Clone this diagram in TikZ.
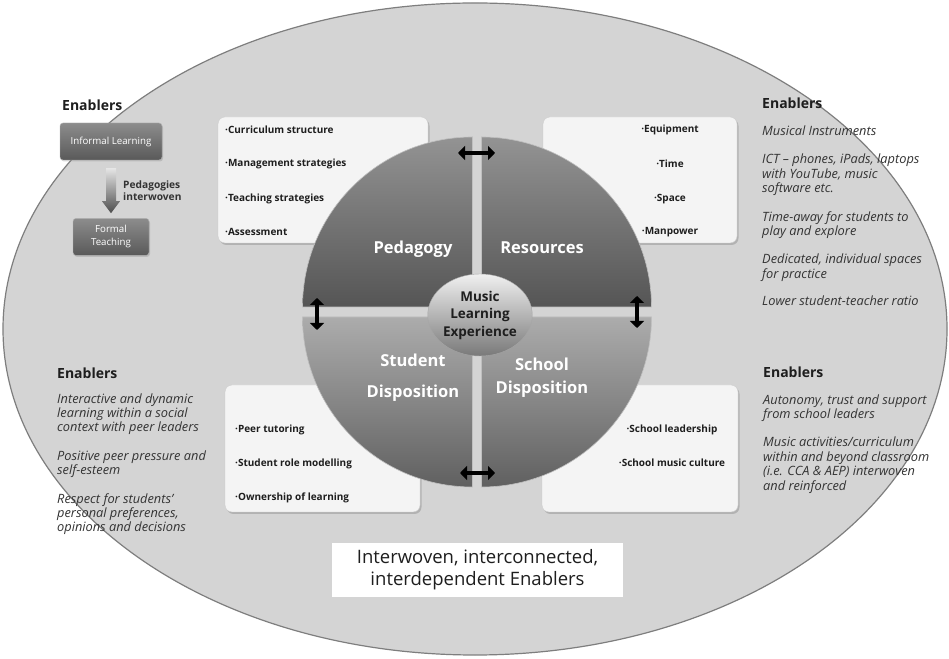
\documentclass[tikz,border=0pt]{standalone}
\usepackage{fontspec}
\setmainfont{Open Sans}
\usepackage{tikz}
\usetikzlibrary{arrows.meta,positioning,shadows,shapes.geometric,calc}
\definecolor{field}{HTML}{D4D4D4}
\definecolor{rim}{HTML}{7E7E7E}
\definecolor{ink}{HTML}{1E1E1E}
\definecolor{note}{HTML}{333333}
\definecolor{card}{HTML}{F4F4F4}
\definecolor{upperA}{HTML}{939393}
\definecolor{upperB}{HTML}{555555}
\definecolor{lowerA}{HTML}{ACACAC}
\definecolor{lowerB}{HTML}{606060}

\begin{document}
\begin{tikzpicture}[x=1pt,y=1pt,
  card/.style={draw=gray!40,fill=card,rounded corners=7pt,
               drop shadow={opacity=.4,shadow xshift=1.5pt,shadow yshift=-2pt}},
  item/.style={font=\fontsize{10}{12}\selectfont\bfseries,text=ink,inner sep=0pt},
  enab/.style={font=\fontsize{14}{16}\selectfont\bfseries,text=ink,inner sep=0pt},
  enabtext/.style={font=\fontsize{12.8}{14.4}\selectfont\itshape,text=note,align=left,inner sep=0pt},
  quad/.style={draw=gray!50,line width=.6pt},
  qlabel/.style={font=\fontsize{16.5}{20}\selectfont\bfseries,text=white,align=center},
  hub/.style={ellipse,minimum width=94pt,minimum height=82pt,inner sep=0pt,draw=gray!70,
              top color=gray!12,bottom color=gray!95!black,
              font=\fontsize{13.5}{17.5}\selectfont\bfseries,text=ink,align=center},
  twoway/.style={{Triangle[length=7pt,width=14pt]}-{Triangle[length=7pt,width=14pt]},
                 line width=3.5pt,black},
  darkbox/.style={rounded corners=3pt,top color=gray!90,bottom color=gray!70!black,draw=gray!60,
                  text=white,font=\fontsize{9.7}{13}\selectfont,align=center,
                  drop shadow={opacity=.3,shadow xshift=1pt,shadow yshift=-1.5pt}}
]
\useasboundingbox (0,0) rectangle (949,658);
\fill[white] (0,0) rectangle (949,658);
\draw[fill=field,draw=rim,line width=1.2pt] (475,329) ellipse [x radius=472,y radius=326];

\node[card,minimum width=210pt,minimum height=126pt] (pedbox) at (323,478) {};
\node[card,minimum width=194pt,minimum height=126pt] (resbox) at (640,478) {};
\node[card,minimum width=195pt,minimum height=127pt] (stubox) at (322.5,209.5) {};
\node[card,minimum width=196pt,minimum height=127pt] (schbox) at (640,209.5) {};

\node[item,anchor=west] (p1) at (225,528) {·Curriculum structure};
\node[item,anchor=west] (p2) at (225,494) {·Management strategies};
\node[item,anchor=west] (p3) at (225,459) {·Teaching strategies};
\node[item,anchor=west] (p4) at (225,426) {·Assessment};
\node[item] (r1) at (670,528) {·Equipment};
\node[item] (r2) at (670,494) {·Time};
\node[item] (r3) at (670,459) {·Space};
\node[item] (r4) at (670,426) {·Manpower};
\node[item,anchor=west] (s1) at (235,228) {·Peer tutoring};
\node[item,anchor=west] (s2) at (235,194) {·Student role modelling};
\node[item,anchor=west] (s3) at (235,160) {·Ownership of learning};
\node[item] (c1) at (672,228) {·School leadership};
\node[item] (c2) at (672,195) {·School music culture};

\path[quad,top color=upperA,bottom color=upperB]
  (472.5,351) -- ++(-170,0) arc[start angle=180,end angle=90,radius=170] -- cycle;
\path[quad,top color=upperA,bottom color=upperB]
  (481.5,351) -- ++(170,0) arc[start angle=0,end angle=90,radius=170] -- cycle;
\path[quad,top color=lowerA,bottom color=lowerB]
  (472.5,341) -- ++(-170,0) arc[start angle=180,end angle=270,radius=170] -- cycle;
\path[quad,top color=lowerA,bottom color=lowerB]
  (481.5,341) -- ++(170,0) arc[start angle=0,end angle=-90,radius=170] -- cycle;

\node[qlabel] (ped) at (413,409) {Pedagogy};
\node[qlabel] (res) at (542,410) {Resources};
\node[qlabel] (stu) at (413,280) {Student\\[11pt]Disposition};
\node[qlabel] (sch) at (542,280.5) {School\\[3pt]Disposition};
\node[hub] (hub) at (480,343) {Music\\Learning\\Experience};

\coordinate (t1) at (458,505);
\coordinate (t2) at (495,505);
\coordinate (l1) at (317,360);
\coordinate (l2) at (317,328);
\coordinate (g1) at (637,362);
\coordinate (g2) at (637,330);
\coordinate (b1) at (460,185);
\coordinate (b2) at (495,185);
\draw[twoway] (t1) -- (t2);
\draw[twoway] (l1) -- (l2);
\draw[twoway] (g1) -- (g2);
\draw[twoway] (b1) -- (b2);

\node[enab,anchor=west] (enTL) at (62,553) {Enablers};
\node[darkbox,minimum width=102pt,minimum height=37pt] (inf) at (111,516.5) {Informal Learning};
\node[darkbox,minimum width=76pt,minimum height=37pt,below=58pt of inf] (form) {Formal\\Teaching};
\coordinate (ar1) at ([yshift=-8pt]inf.south);
\coordinate (ar2) at ([yshift=5pt]form.north);
\coordinate (armid) at ($(ar1)!.5!(ar2)$);
\shade[top color=gray!20,bottom color=gray!60!black]
  ($(ar1)+(-5,0)$) -- ($(ar1)+(5,0)$) -- ($(ar2)+(5,12)$) -- ($(ar2)+(9,12)$) -- (ar2)
  -- ($(ar2)+(-9,12)$) -- ($(ar2)+(-5,12)$) -- cycle;
\node[font=\fontsize{10.2}{12.5}\selectfont\bfseries,text=note,align=left,inner sep=0pt,
      right=12pt of armid] (pi) {Pedagogies\\interwoven};

\node[enab,anchor=west] (enTR) at (762,555) {Enablers};
\node[enabtext,below=17pt of enTR.south west,anchor=north west] (tr)
  {Musical Instruments\\[14pt]ICT – phones, iPads, laptops\\with YouTube, music\\software etc.\\[14pt]%
   Time-away for students to\\play and explore\\[14pt]Dedicated, individual spaces\\for practice\\[13pt]%
   Lower student-teacher ratio};

\node[enab,anchor=west] (enBL) at (57,285) {Enablers};
\node[enabtext,below=14.5pt of enBL.south west,anchor=north west] (bl)
  {Interactive and dynamic\\learning within a social\\context with peer leaders\\[14pt]%
   Positive peer pressure and\\self-esteem\\[14pt]Respect for students'\\personal preferences,\\%
   opinions and decisions};

\node[enab,anchor=west] (enBR) at (763,286) {Enablers};
\node[enabtext,below=16.5pt of enBR.south west,anchor=north west] (br)
  {Autonomy, trust and support\\from school leaders\\[14pt]Music activities/curriculum\\%
   within and beyond classroom\\(i.e. CCA \& AEP) interwoven\\and reinforced};

\node[fill=white,minimum width=291pt,minimum height=54pt,font=\fontsize{18.5}{22}\selectfont,
      text=ink,align=center] (tag) at (477.5,88) {Interwoven, interconnected,\\interdependent Enablers};
\end{tikzpicture}
\end{document}
